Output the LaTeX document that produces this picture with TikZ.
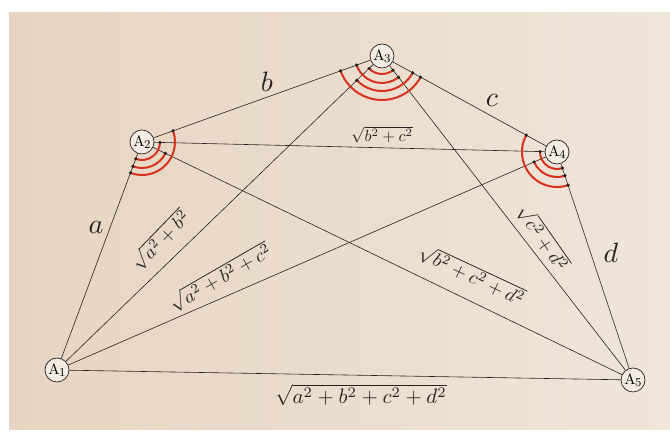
\documentclass[tikz,border=0pt]{standalone}
\usetikzlibrary{calc}
\definecolor{paperL}{HTML}{E6D5C2}
\definecolor{paperR}{HTML}{EFE5D9}
\definecolor{arcred}{HTML}{D8321F}
\definecolor{ink}{HTML}{262220}
\definecolor{nodefill}{HTML}{F3ECE2}
\tikzset{
  vertex/.style={circle, draw=ink, line width=0.7pt, fill=nodefill, minimum size=24pt, inner sep=0pt},
  edge/.style={draw=ink, line width=0.6pt},
  arcmark/.style={draw=arcred, line width=2pt},
  sidelbl/.style={text=ink, inner sep=1pt, scale=2.8, transform shape},
  diag/.style={text=ink, inner sep=1pt, scale=1.9, transform shape},
}
\newcommand\vlab[1]{\scalebox{1.5}{A\kern-0.4pt\raisebox{-1.6pt}{\footnotesize #1}}}
\newcommand\markangle[4]{%
  \pgfmathanglebetweenpoints{\pgfpointanchor{#1}{center}}{\pgfpointanchor{#2}{center}}%
  \edef\mkS{\pgfmathresult}%
  \pgfmathanglebetweenpoints{\pgfpointanchor{#1}{center}}{\pgfpointanchor{#3}{center}}%
  \edef\mkE{\pgfmathresult}%
  \pgfmathparse{\mkE<\mkS ? \mkE+360 : \mkE}%
  \edef\mkE{\pgfmathresult}%
  \draw[arcmark] ($(#1)+(\mkS:#4)$) arc[start angle=\mkS, end angle=\mkE, radius=#4];
  \fill[ink] ($(#1)+(\mkS:#4)$) circle (1.8pt) ($(#1)+(\mkE:#4)$) circle (1.8pt);
}
\begin{document}
\begin{tikzpicture}[x=1pt,y=1pt]
\useasboundingbox (0,0) rectangle (670,435);
\fill[white] (0,0) rectangle (670,435);
\shade[left color=paperL, right color=paperR] (9,5) rectangle (670,422);

\node[vertex] (A1) at (57,65) {\vlab{1}};
\node[vertex] (A2) at (142,293) {\vlab{2}};
\node[vertex] (A3) at (382,379) {\vlab{3}};
\node[vertex] (A4) at (557,283) {\vlab{4}};
\node[vertex] (A5) at (633,55) {\vlab{5}};

\draw[edge] (A1) -- (A2);
\draw[edge] (A2) -- (A3);
\draw[edge] (A3) -- (A4);
\draw[edge] (A4) -- (A5);
\draw[edge] (A1) -- (A5);
\draw[edge] (A1) -- (A3);
\draw[edge] (A1) -- (A4);
\draw[edge] (A2) -- (A4);
\draw[edge] (A2) -- (A5);
\draw[edge] (A3) -- (A5);

\markangle{A3}{A1}{A5}{18pt}
\markangle{A3}{A2}{A5}{27pt}
\markangle{A3}{A1}{A4}{35pt}
\markangle{A3}{A2}{A4}{44pt}

\markangle{A2}{A1}{A4}{18pt}
\markangle{A2}{A1}{A5}{26pt}
\markangle{A2}{A1}{A3}{33pt}

\markangle{A4}{A2}{A5}{17pt}
\markangle{A4}{A1}{A5}{25pt}
\markangle{A4}{A3}{A5}{35pt}

\node[sidelbl] (la) at (96,208) {$a$};
\node[sidelbl] (lb) at (267,353) {$b$};
\node[sidelbl] (lc) at (492,335) {$c$};
\node[sidelbl] (ld) at (611,182) {$d$};

\node[diag, rotate=46] (l13) at (160,195) {$\sqrt{a^2+b^2}$};
\node[diag, rotate=30] (l14) at (220,158) {$\sqrt{a^2+b^2+c^2}$};
\node[diag, scale=0.85] (l24) at (382,300) {$\sqrt{b^2+c^2}$};
\node[diag, rotate=-25] (l25) at (472,160) {$\sqrt{b^2+c^2+d^2}$};
\node[diag, rotate=-55] (l35) at (543,197) {$\sqrt{c^2+d^2}$};
\node[diag, scale=1.1] (l15) at (361,40) {$\sqrt{a^2+b^2+c^2+d^2}$};
\end{tikzpicture}
\end{document}
